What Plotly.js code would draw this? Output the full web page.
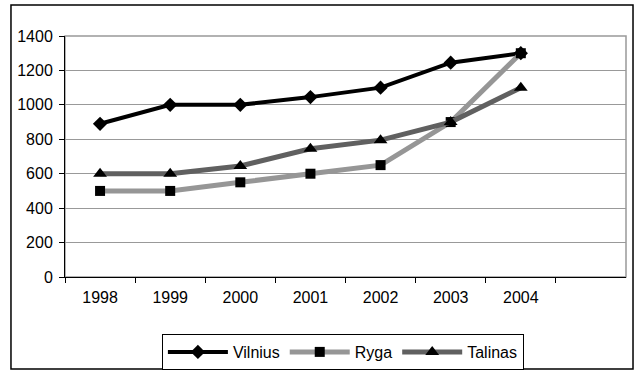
<!DOCTYPE html>
<html><head><meta charset="utf-8">
<script src="https://cdn.plot.ly/plotly-3.0.1.min.js"></script>
<style>html,body{margin:0;padding:0;background:#fff}#c{width:635px;height:370px}</style>
</head><body><div id="c"></div>
<script>
const years = ['1998','1999','2000','2001','2002','2003','2004'];
const vilnius = [890, 1000, 1000, 1045, 1100, 1245, 1300];
const ryga    = [500, 500, 550, 600, 650, 900, 1300];
const talinas = [600, 600, 645, 745, 795, 900, 1100];
const yTicks  = [0, 200, 400, 600, 800, 1000, 1200, 1400];

const font = {family: '"Liberation Sans", Arial, sans-serif', size: 16, color: '#000'};
const traces = [
  {name: 'Vilnius', x: years, y: vilnius, mode: 'lines+markers',
   line: {color: '#000', width: 4}, marker: {symbol: 'diamond', size: 11, color: '#000'}},
  {name: 'Ryga', x: years, y: ryga, mode: 'lines+markers',
   line: {color: '#969696', width: 5}, marker: {symbol: 'square', size: 10, color: '#000'}},
  {name: 'Talinas', x: years, y: talinas, mode: 'lines+markers',
   line: {color: '#606060', width: 5}, marker: {symbol: 'triangle-up', size: 12, color: '#000'}}
];
const layout = {
  width: 635, height: 370,
  margin: {l: 65, r: 9, t: 36, b: 93},
  paper_bgcolor: '#fff', plot_bgcolor: '#fff',
  font: font,
  showlegend: true,
  xaxis: {type: 'category', categoryorder: 'array', categoryarray: years,
    range: [-0.5, 7.5], tickson: 'boundaries', ticks: 'outside', ticklen: 5, tickcolor: '#000',
    showline: true, linecolor: '#000', linewidth: 1, showgrid: false, zeroline: false,
    tickfont: font, ticklabelstandoff: 6, fixedrange: true},
  yaxis: {range: [0, 1400], tickvals: yTicks, ticks: 'outside', ticklen: 5, tickcolor: '#000',
    showline: true, linecolor: '#000', linewidth: 1, showgrid: true, gridcolor: '#999', gridwidth: 1,
    zeroline: false, tickfont: font, ticklabelstandoff: 3, fixedrange: true},
  legend: {orientation: 'h', xref: 'container', yref: 'container',
    x: 0.54, xanchor: 'center', y: 0.0973, yanchor: 'top',
    bordercolor: '#000', borderwidth: 1, bgcolor: '#fff', font: font, itemwidth: 60,
    tracegroupgap: 0},
  shapes: [
    {type: 'rect', xref: 'paper', yref: 'paper', x0: 0, x1: 1, y0: 0, y1: 1,
     line: {color: '#999', width: 1.5}, layer: 'below'},
    {type: 'rect', xref: 'paper', yref: 'paper', x0: -0.0963, x1: 1.0125, y0: -0.382, y1: 1.1286,
     line: {color: '#000', width: 1.5}, fillcolor: 'rgba(0,0,0,0)'}
  ]
};
Plotly.newPlot('c', traces, layout, {displayModeBar: false, staticPlot: true});
</script></body></html>
